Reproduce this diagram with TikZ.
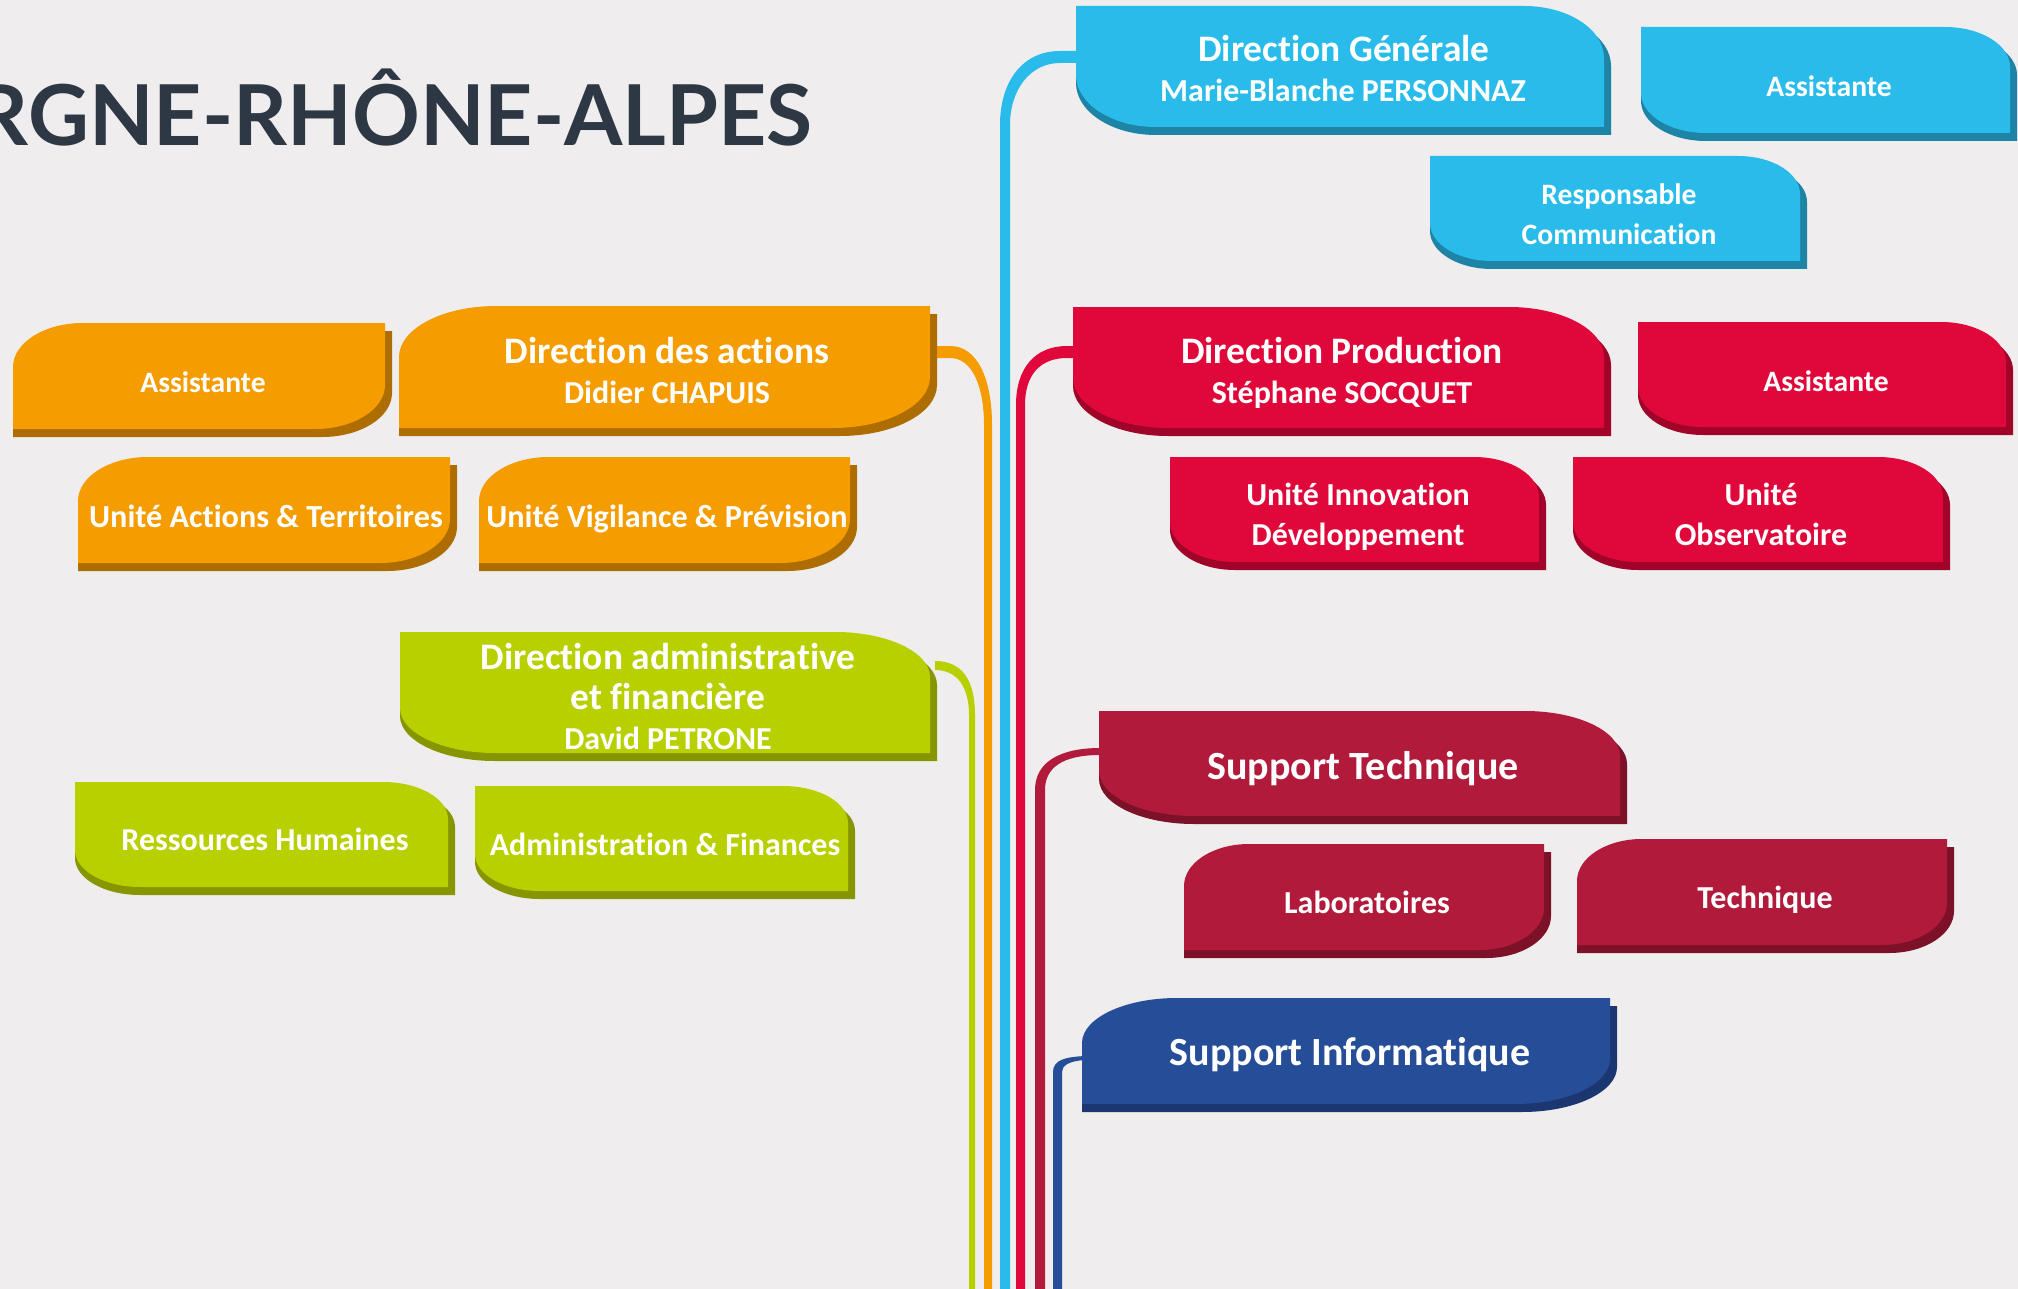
\documentclass[tikz,border=0pt]{standalone}
\usepackage{fontspec}
\setmainfont{Carlito}[Ligatures={NoCommon}]
\newfontfamily\titlefont{Lato}
\usetikzlibrary{calc}

\definecolor{bg}{HTML}{EFEDEE}
\definecolor{titlecol}{HTML}{2E3744}
\definecolor{cblue}{HTML}{29BCEA}
\definecolor{sblue}{HTML}{1E84A6}
\definecolor{corange}{HTML}{F59C00}
\definecolor{sorange}{HTML}{AD6D00}
\definecolor{cgreen}{HTML}{B8CF00}
\definecolor{sgreen}{HTML}{879600}
\definecolor{cred}{HTML}{E0073A}
\definecolor{sred}{HTML}{A00429}
\definecolor{cdred}{HTML}{B11A3A}
\definecolor{sdred}{HTML}{7C1127}
\definecolor{cnavy}{HTML}{264D98}
\definecolor{snavy}{HTML}{1B3670}

% type A: top-left square, top-right rounded, bottom-right square, bottom-left rounded
\newcommand{\orgShapeA}[7]{%
  \fill[#1] (#2,#3) -- ({#4-#6},#3) .. controls ({#4-0.448*#6},#3) and (#4,{#3+0.448*#7}) .. (#4,{#3+#7})
    -- (#4,#5) -- ({#2+#6},#5) .. controls ({#2+0.448*#6},#5) and (#2,{#5-0.448*#7}) .. (#2,{#5-#7}) -- cycle;}
% type B: top-left rounded, top-right square, bottom-right rounded, bottom-left square
\newcommand{\orgShapeB}[7]{%
  \fill[#1] (#2,{#3+#7}) .. controls (#2,{#3+0.448*#7}) and ({#2+0.448*#6},#3) .. ({#2+#6},#3)
    -- (#4,#3) -- (#4,{#5-#7}) .. controls (#4,{#5-0.448*#7}) and ({#4-0.448*#6},#5) .. ({#4-#6},#5)
    -- (#2,#5) -- cycle;}
% box with shadow: main, shadow, x1, y1, x2, y2, rx, ry
\newcommand{\orgBoxA}[8]{%
  \orgShapeA{#2}{#3}{#4+8}{#5+7}{#6+8}{#7}{#8}%
  \orgShapeA{#1}{#3}{#4}{#5}{#6}{#7}{#8}}
\newcommand{\orgBoxB}[8]{%
  \orgShapeB{#2}{#3}{#4+8}{#5+7}{#6+8}{#7}{#8}%
  \orgShapeB{#1}{#3}{#4}{#5}{#6}{#7}{#8}}

\tikzset{
  lbl/.style={text=white, anchor=base, inner sep=0pt, yshift=-1pt},
  fA/.style={font=\fontsize{18.7}{22}\selectfont\bfseries},
  fB/.style={font=\fontsize{16}{19}\selectfont\bfseries},
  fC/.style={font=\fontsize{14.8}{18}\selectfont\bfseries},
  fD/.style={font=\fontsize{16.1}{19}\selectfont\bfseries},
  fE/.style={font=\fontsize{20}{24}\selectfont\bfseries},
}

\begin{document}
\begin{tikzpicture}[x=0.5pt,y=-0.5pt]
\useasboundingbox (0,0) rectangle (2018,1289);
\fill[bg] (0,0) rectangle (2018,1289);
\clip (0,0) rectangle (2018,1289);

% title
\node[anchor=base east, inner sep=0pt, text=titlecol,
      font=\titlefont\bfseries\fontsize{42}{50}\selectfont] (title) at (813,146) {AUVERGNE-RHÔNE-ALPES};

% connector end points at the bottom edge
\coordinate (gEnd) at (972,1289);
\coordinate (oEnd) at (988,1289);
\coordinate (bEnd) at (1005,1289);
\coordinate (rEnd) at (1020.5,1289);
\coordinate (dEnd) at (1040,1289);
\coordinate (nEnd) at (1057.5,1289);

% connectors
\fill[cgreen] (935,661) .. controls (962,661) and (975,680) .. (975,715) -- (975,1289)
  -- (969,1289) -- (969,715) .. controls (969,688) and (958,670) .. (935,670) -- cycle;
\fill[corange] (930,346) -- (950,346) .. controls (978,346) and (992,380) .. (992,425) -- (992,1289)
  -- (984,1289) -- (984,425) .. controls (984,388) and (973,358) .. (950,358) -- (930,358) -- cycle;
\fill[cblue] (1085,51) -- (1060,51) .. controls (1022,51) and (1000,82) .. (1000,125) -- (1000,1289)
  -- (1010,1289) -- (1010,125) .. controls (1010,90) and (1030,63) .. (1060,63) -- (1085,63) -- cycle;
\fill[cred] (1085,346) -- (1067,346) .. controls (1035,346) and (1016,368) .. (1016,405) -- (1016,1289)
  -- (1025,1289) -- (1025,405) .. controls (1025,375) and (1040,358) .. (1067,358) -- (1085,358) -- cycle;
\fill[cdred] (1110,748) -- (1100,748) .. controls (1060,748) and (1035,762) .. (1035,790) -- (1035,1289)
  -- (1045,1289) -- (1045,790) .. controls (1045,768) and (1062,755) .. (1100,755) -- (1110,755) -- cycle;
\fill[cnavy] (1095,1056) -- (1085,1056) .. controls (1065,1057) and (1053,1060) .. (1053,1072) -- (1053,1289)
  -- (1062,1289) -- (1062,1072) .. controls (1062,1066) and (1068,1061) .. (1085,1060) -- (1095,1060) -- cycle;

% blue group
\orgBoxA{cblue}{sblue}{1076}{6}{1604}{127}{80}{52}
\orgBoxA{cblue}{sblue}{1641}{27}{2010}{133}{65}{40}
\orgBoxA{cblue}{sblue}{1430}{156}{1800}{261}{62}{38}
\node[lbl,fA] (dg) at (1344,60) {Direction Générale};
\node[lbl,fB] (dgname) at (1343,100) {Marie-Blanche PERSONNAZ};
\node[lbl,fC] (dgasst) at (1829,95) {Assistante};
\node[lbl,fC] (com1) at (1619,203) {Responsable};
\node[lbl,fC] (com2) at (1619,243) {Communication};

% orange group
\orgBoxB{corange}{sorange}{13}{323}{385}{429}{70}{44}
\orgBoxB{corange}{sorange}{399}{306}{930}{428}{97}{51}
\orgBoxB{corange}{sorange}{78}{457}{450}{563}{70}{44}
\orgBoxB{corange}{sorange}{479}{457}{850}{563}{70}{44}
\node[lbl,fC] (daasst) at (203,390) {Assistante};
\node[lbl,fA] (da) at (667,361) {Direction des actions};
\node[lbl,fB] (daname) at (667,401) {Didier CHAPUIS};
\node[lbl,fD] (uat) at (266,525) {Unité Actions \& Territoires};
\node[lbl,fD] (uvp) at (667,525) {Unité Vigilance \& Prévision};

% green group
\orgBoxA{cgreen}{sgreen}{400}{632}{930}{753}{95}{45}
\orgBoxA{cgreen}{sgreen}{75}{782}{448}{887}{65}{37}
\orgBoxA{cgreen}{sgreen}{475}{786}{848}{891}{65}{37}
\node[lbl,fA] (daf1) at (668,667) {Direction administrative};
\node[lbl,fA] (daf2) at (668,707) {et financière};
\node[lbl,fB] (dafname) at (668,747) {David PETRONE};
\node[lbl,fB] (rh) at (265,848) {Ressources Humaines};
\node[lbl,fB] (af) at (665,853) {Administration \& Finances};

% red group
\orgBoxA{cred}{sred}{1073}{307}{1604}{428}{95}{50}
\orgBoxA{cred}{sred}{1638}{322}{2006}{427}{65}{40}
\orgBoxA{cred}{sred}{1170}{457}{1539}{562}{65}{40}
\orgBoxA{cred}{sred}{1573}{457}{1943}{562}{65}{40}
\node[lbl,fA] (dp) at (1342,361) {Direction Production};
\node[lbl,fB] (dpname) at (1342,401) {Stéphane SOCQUET};
\node[lbl,fC] (dpasst) at (1826,389) {Assistante};
\node[lbl,fB] (uid1) at (1358,503) {Unité Innovation};
\node[lbl,fB] (uid2) at (1358,543) {Développement};
\node[lbl,fB] (uo1) at (1761,503) {Unité};
\node[lbl,fB] (uo2) at (1761,543) {Observatoire};

% dark red group
\orgBoxA{cdred}{sdred}{1099}{711}{1620}{816}{95}{45}
\orgBoxB{cdred}{sdred}{1184}{844}{1544}{950}{65}{42}
\orgBoxB{cdred}{sdred}{1577}{839}{1947}{945}{65}{42}
\node[lbl,fE] (st) at (1363,777) {Support Technique};
\node[lbl,fB] (lab) at (1367,911) {Laboratoires};
\node[lbl,fB] (tech) at (1765,906) {Technique};

% navy group
\orgBoxB{cnavy}{snavy}{1082}{998}{1610}{1104}{95}{45}
\node[lbl,fE] (si) at (1350,1063) {Support Informatique};
\end{tikzpicture}
\end{document}
